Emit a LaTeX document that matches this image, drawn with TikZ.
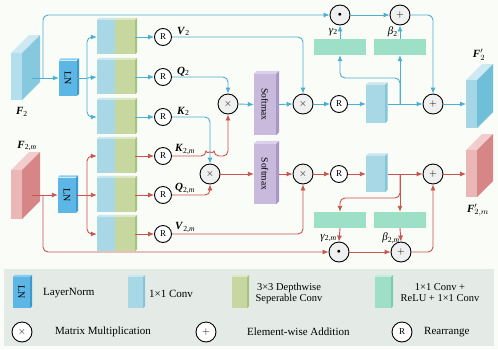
\documentclass[tikz,border=0pt]{standalone}
\usepackage{fontspec}
\setmainfont{Liberation Serif}
\usetikzlibrary{arrows.meta}
\definecolor{lb}{HTML}{4AAFD2}
\definecolor{lr}{HTML}{C9534D}
\definecolor{convb}{HTML}{A8D7E6}
\definecolor{convbt}{HTML}{C9E7F0}
\definecolor{convbs}{HTML}{86C4DA}
\definecolor{convg}{HTML}{C6D8A0}
\definecolor{convgs}{HTML}{A9C27E}
\definecolor{convgt}{HTML}{DCE8C4}
\definecolor{mintc}{HTML}{9EDFC8}
\definecolor{mints}{HTML}{7CCBB0}
\definecolor{lnc}{HTML}{5CB7E6}
\definecolor{lns}{HTML}{3E9ACB}
\definecolor{lnt}{HTML}{8ACDF0}
\definecolor{smc}{HTML}{C9B9DD}
\definecolor{sms}{HTML}{A898C6}
\definecolor{smt}{HTML}{DCD0EA}
\definecolor{bgc}{HTML}{FAFCF8}
\definecolor{legbg}{HTML}{E4EBE7}
\definecolor{opfill}{HTML}{F0F0F0}
\definecolor{fbfront}{HTML}{B3DEEB}
\definecolor{fbside}{HTML}{86C9DF}
\definecolor{fbtop}{HTML}{CDE9F2}
\definecolor{fbfront2}{HTML}{A5D6E5}
\definecolor{fbside2}{HTML}{6FBFD8}
\definecolor{frfront}{HTML}{EBB6B6}
\definecolor{frside}{HTML}{D68686}
\definecolor{frtop}{HTML}{F3CDCD}
\newcommand{\threed}[4]{% name, top colour, side colour, depth
  \fill[#2] (#1.north west) -- ++(#4,-#4) -- ([shift={(#4,-#4)}]#1.north east) -- (#1.north east) -- cycle;
  \fill[#3] (#1.north east) -- ([shift={(#4,-#4)}]#1.north east) -- ([shift={(#4,-#4)}]#1.south east) -- (#1.south east) -- cycle;}
\newcommand{\slab}[8]{% x1 y1 x2 y2 depth front side top
  \fill[#8] (#1,#2) -- ++(#5,-#5) -- (#3+#5,#2-#5) -- (#3,#2) -- cycle;
  \fill[#7] (#3,#2) -- (#3+#5,#2-#5) -- (#3+#5,#4-#5) -- (#3,#4) -- cycle;
  \fill[#6] (#1,#2) rectangle (#3,#4);}
\newcommand{\vl}[2]{\textbf{\textit{#1}}\textsubscript{#2}}
\begin{document}
\begin{tikzpicture}[x=1pt,y=-1pt,
  bl/.style={draw=lb, line width=0.9pt, rounded corners=5pt},
  rl/.style={draw=lr, line width=0.9pt, rounded corners=5pt},
  arr/.style={-{Latex[length=6pt,width=5pt]}},
  op/.style={circle, draw=black, line width=0.9pt, fill=opfill, minimum size=20pt, inner sep=0pt},
  rr/.style={circle, draw=black, line width=0.9pt, fill=white, minimum size=17pt, inner sep=0pt, font=\fontsize{9}{10}\selectfont},
  cvb/.style={rectangle, fill=convb, minimum width=18pt, minimum height=34pt, inner sep=0pt},
  cvg/.style={rectangle, fill=convg, minimum width=20pt, minimum height=34pt, inner sep=0pt},
  mintbox/.style={rectangle, fill=mintc, minimum width=52pt, minimum height=16pt, inner sep=0pt},
  lnbox/.style={rectangle, fill=lnc, minimum width=18pt, minimum height=35pt, inner sep=0pt, font=\fontsize{10}{10}\selectfont},
  smbox/.style={rectangle, fill=smc, minimum width=22pt, minimum height=61pt, inner sep=0pt, font=\fontsize{9.5}{10}\selectfont},
  lab/.style={font=\fontsize{11}{12}\selectfont, inner sep=1pt},
  legt/.style={font=\fontsize{11}{12}\selectfont, anchor=west, inner sep=0pt},
  legctr/.style={font=\fontsize{10.5}{11}\selectfont, align=center, inner sep=0pt}
]
\useasboundingbox (0,0) rectangle (498,349);
\fill[bgc] (0,0) rectangle (498,349);
\fill[legbg] (4,269) rectangle (494,346);

% input / output slabs
\slab{11}{53}{22}{100}{18}{fbfront}{fbside}{fbtop}
\slab{11}{170}{22}{219}{18}{frfront}{frside}{frtop}
\slab{466}{80}{477}{128}{16}{fbfront2}{fbside2}{fbtop}
\slab{466}{150}{477}{197}{16}{frfront}{frside}{frtop}
\node[lab] (lF) at (22,112) {\vl{F}{2}};
\node[lab] (lFm) at (27,146) {\vl{F}{2,\textit{m}}};
\node[lab] (lFo) at (479,55) {\textbf{\textit{F}}$_{2}^{\prime}$};
\node[lab] (lFmo) at (478,210) {\textbf{\textit{F}}$_{2,m}^{\prime}$};
\coordinate (f2o) at (32,78);
\coordinate (f2mo) at (32,195);
\coordinate (b1) at (43,78);
\coordinate (b2) at (43,195);
\coordinate (F2in) at (466,104);
\coordinate (F2min) at (466,174);

% LN
\node[lnbox] (LN1) at (68,78) {\rotatebox{-90}{LN}};
\node[lnbox] (LN2) at (67,195) {\rotatebox{-90}{LN}};
\threed{LN1}{lnt}{lns}{2}
\threed{LN2}{lnt}{lns}{2}
\coordinate (s1) at (87,78);
\coordinate (s2) at (87,195);

% conv boxes
\foreach \i/\y in {1/37,2/77,3/117,4/156,5/195,6/234}{
  \node[cvb] (cb\i) at (106,\y) {};
  \node[cvg] (cg\i) at (125,\y) {};
  \fill[convbt] (cb\i.north west) -- ++(2,-2) -- ([shift={(2,-2)}]cb\i.north east) -- (cb\i.north east) -- cycle;
  \threed{cg\i}{convgt}{convgs}{2}
  \node[rr] (R\i) at (163,\y) {R};
}

% labels
\node[lab, anchor=south west] (lV) at (176,37) {\vl{V}{2}};
\node[lab, anchor=south west] (lQ) at (176,77) {\vl{Q}{2}};
\node[lab, anchor=south west] (lK) at (176,117) {\vl{K}{2}};
\node[lab, anchor=south west] (lKm) at (174,156) {\vl{K}{2,\textit{m}}};
\node[lab, anchor=south west] (lQm) at (174,195) {\vl{Q}{2,\textit{m}}};
\node[lab, anchor=south west] (lVm) at (174,234) {\vl{V}{2,\textit{m}}};

% operators
\node[op] (tx1) at (228,104) {$\times$};
\node[op] (bx1) at (210,174) {$\times$};
\node[smbox] (sm1) at (265,104.5) {\rotatebox{-90}{Softmax}};
\node[smbox, minimum height=60pt] (sm2) at (265,174) {\rotatebox{-90}{Softmax}};
\threed{sm1}{smt}{sms}{3}
\threed{sm2}{smt}{sms}{3}
\node[op] (tx2) at (303,104) {$\times$};
\node[op] (bx2) at (303,174) {$\times$};
\node[rr] (tR) at (339,104) {R};
\node[rr] (bR) at (339,174) {R};
\node[rectangle, fill=convb, minimum width=19pt, minimum height=38pt, inner sep=0pt] (tcv) at (375.5,104) {};
\node[rectangle, fill=convb, minimum width=19pt, minimum height=36pt, inner sep=0pt] (bcv) at (375.5,174) {};
\threed{tcv}{convbt}{convbs}{2.5}
\threed{bcv}{convbt}{convbs}{2.5}
\node[op] (tp) at (433,104) {$+$};
\node[op] (bp) at (433,174) {$+$};
\node[mintbox] (ga1) at (340,47) {};
\node[mintbox] (be1) at (400,47) {};
\node[mintbox] (ga2) at (340,220) {};
\node[mintbox] (be2) at (400,220) {};
\node[op] (od1) at (340,15) {\fontsize{7}{7}\selectfont$\bullet$};
\node[op] (pl1) at (400,15) {$+$};
\node[op] (od2) at (339,252) {\fontsize{7}{7}\selectfont$\bullet$};
\node[op] (pl2) at (401,252) {$+$};
\node[lab, anchor=east] (lg1) at (339,32) {\textit{γ}\textsubscript{2}};
\node[lab, anchor=east] (lb1) at (399,32) {\textit{β}\textsubscript{2}};
\node[lab, anchor=east] (lg2) at (338,238) {\textit{γ}\textsubscript{2,\textit{m}}};
\node[lab, anchor=east] (lb2) at (401,238) {\textit{β}\textsubscript{2,\textit{m}}};
\coordinate (t1) at (400,104);
\coordinate (t2) at (400,174);

% ---------- blue (top) connections
\draw[bl, arr] (f2o) -- (LN1.west);
\draw[bl, arr] (b1) |- (od1.west);
\draw[bl] (LN1.east) -- (s1);
\draw[bl, arr] (s1) |- (cb1.west);
\draw[bl, arr] (s1) -- (cb2.west);
\draw[bl, arr] (s1) |- (cb3.west);
\foreach \i in {1,2,3}{\draw[bl, arr] (cg\i.east) -- (R\i.west);}
\draw[bl, arr] (R1.east) -| (tx2.north);
\draw[bl, arr] (R2.east) -| (tx1.north);
\draw[bl, arr] (R3.east) -| (bx1.north);
\draw[bl, arr] (tx1.east) -- (sm1.west);
\draw[bl, arr] ([xshift=3pt]sm1.east) -- (tx2.west);
\draw[bl, arr] (tx2.east) -- (tR.west);
\draw[bl, arr] (tR.east) -- (tcv.west);
\draw[bl, arr] ([xshift=2.5pt]tcv.east) -- (tp.west);
\draw[bl, arr] (t1) -- (be1.south);
\draw[bl, arr] (t1) -- ++(0,-26) -| (ga1.south);
\draw[bl, arr] (ga1.north) -- (od1.south);
\draw[bl, arr] (be1.north) -- (pl1.south);
\draw[bl, arr] (od1.east) -- (pl1.west);
\draw[bl, arr] (pl1.east) -| (tp.north);
\draw[bl, arr] (tp.east) -- (F2in);

% ---------- red (bottom) connections
\draw[rl, arr] (f2mo) -- (LN2.west);
\draw[rl, arr] (b2) |- (od2.west);
\draw[rl] (LN2.east) -- (s2);
\draw[rl, arr] (s2) |- (cb4.west);
\draw[rl, arr] (s2) -- (cb5.west);
\draw[rl, arr] (s2) |- (cb6.west);
\foreach \i in {4,5,6}{\draw[rl, arr] (cg\i.east) -- (R\i.west);}
\draw[rl, arr] (R4.east) -- (206,156) arc[start angle=180, end angle=360, radius=4] -| (tx1.south);
\draw[rl, arr] (R5.east) -| (bx1.south);
\draw[rl, arr] (R6.east) -| (bx2.south);
\draw[rl, arr] (bx1.east) -- (sm2.west);
\draw[rl, arr] ([xshift=3pt]sm2.east) -- (bx2.west);
\draw[rl, arr] (bx2.east) -- (bR.west);
\draw[rl, arr] (bR.east) -- (bcv.west);
\draw[rl, arr] ([xshift=2.5pt]bcv.east) -- (bp.west);
\draw[rl, arr] (t2) -- (be2.north);
\draw[rl, arr] (t2) -- ++(0,24) -| (ga2.north);
\draw[rl, arr] (ga2.south) -- (od2.north);
\draw[rl, arr] (be2.south) -- (pl2.north);
\draw[rl, arr] (od2.east) -- (pl2.west);
\draw[rl, arr] (pl2.east) -| (bp.south);
\draw[rl, arr] (bp.east) -- (F2min);

% ---------- legend
\node[lnbox, minimum width=17pt, minimum height=31pt] (kLN) at (21.5,292.5) {\rotatebox{-90}{LN}};
\threed{kLN}{lnt}{lns}{2}
\node[legt] (tLN) at (43,293.5) {LayerNorm};
\node[rectangle, fill=convb, minimum width=15pt, minimum height=31pt, inner sep=0pt] (kcv) at (135.5,292.5) {};
\threed{kcv}{convbt}{convbs}{2}
\node[legt] (tcvl) at (149,293.5) {1×1 Conv};
\node[rectangle, fill=convg, minimum width=15pt, minimum height=31pt, inner sep=0pt] (kdw) at (239.5,292.5) {};
\threed{kdw}{convgt}{convgs}{2}
\node[legctr] (tdw) at (289,293) {3×3 Depthwise\\Seperable Conv};
\node[rectangle, fill=mintc, minimum width=16pt, minimum height=31pt, inner sep=0pt] (kmt) at (383,292.5) {};
\threed{kmt}{mintc!60!white}{mints}{2}
\node[legctr] (tmt) at (440,293) {1×1 Conv +\\ReLU + 1×1 Conv};
\node[op, fill=white] (kx) at (22,332) {$\times$};
\node[legt] (tx) at (55,332) {Matrix Multiplication};
\node[op, fill=white] (kp) at (206,332) {$+$};
\node[legt] (tp2) at (247,332) {Element-wise Addition};
\node[op, fill=white, font=\fontsize{9}{10}\selectfont] (kR) at (402,332) {R};
\node[legt] (tR2) at (424,332) {Rearrange};
\end{tikzpicture}
\end{document}
